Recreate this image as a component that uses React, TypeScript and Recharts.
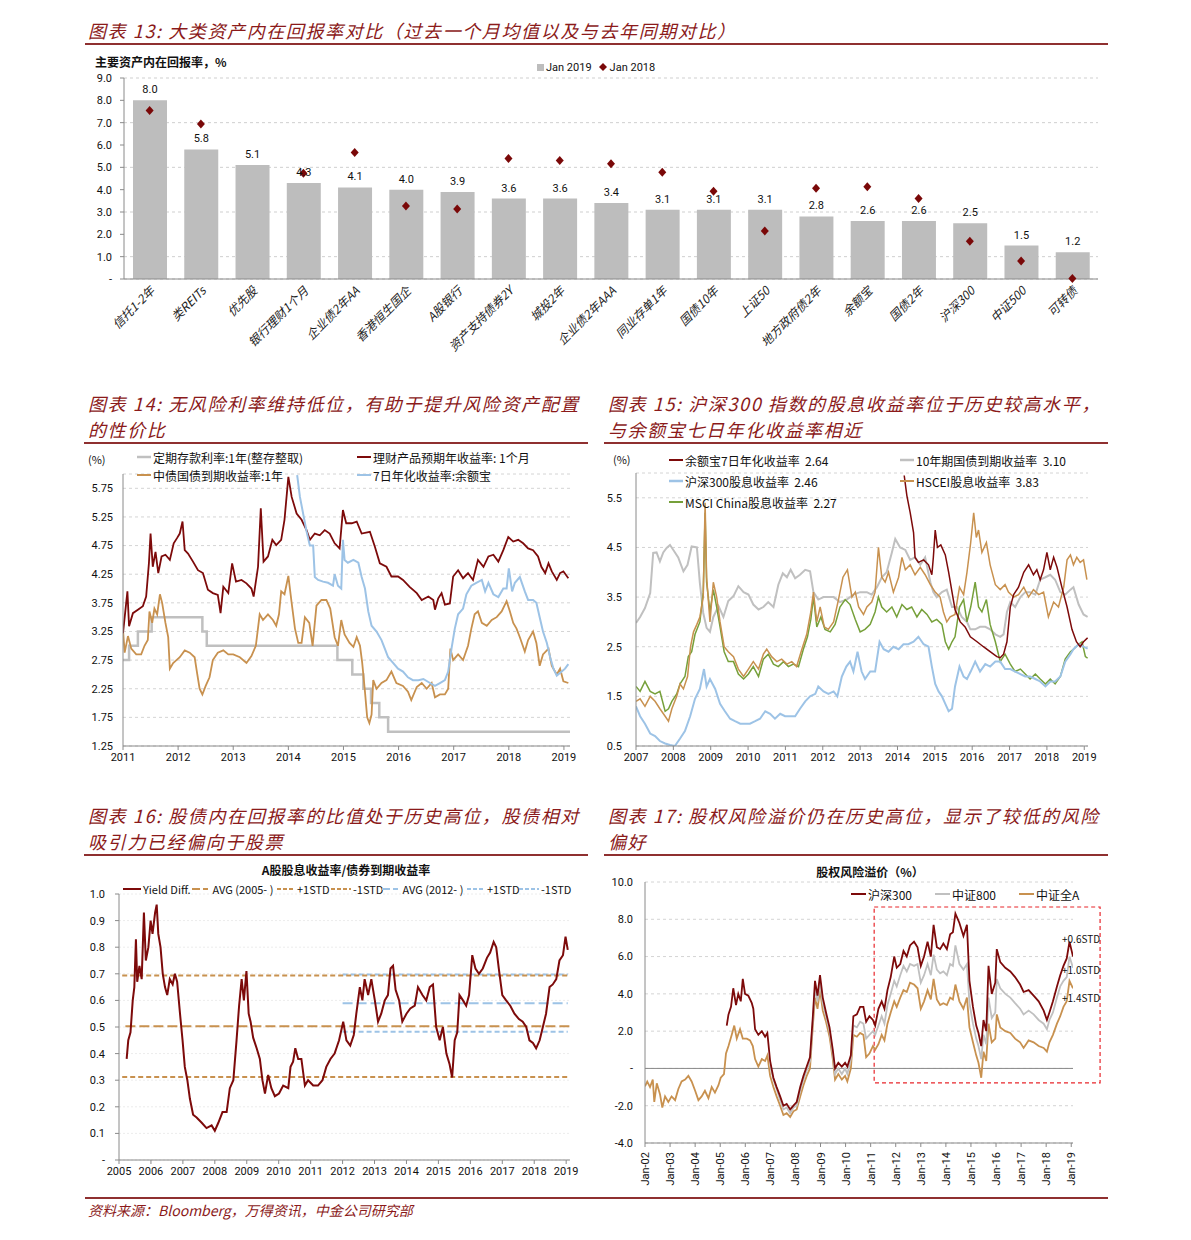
import React from 'react'
import {
  ComposedChart,
  LineChart,
  Bar,
  Line,
  XAxis,
  YAxis,
  CartesianGrid,
  LabelList,
  ReferenceArea,
  ReferenceLine,
} from 'recharts'

type Pt = [number, number]

// ---- 图表13: 大类资产内在回报率 ----
const assetNames = [
  '信托1-2年', '类REITs', '优先股', '银行理财1个月', '企业债2年AA', '香港恒生国企', 'A股银行',
  '资产支持债券2Y', '城投2年', '企业债2年AAA', '同业存单1年', '国债10年', '上证50', '地方政府债2年',
  '余额宝', '国债2年', '沪深300', '中证500', '可转债',
]
const jan2019 = [8.0, 5.8, 5.1, 4.3, 4.1, 4.0, 3.9, 3.6, 3.6, 3.4, 3.1, 3.1, 3.1, 2.8, 2.6, 2.6, 2.5, 1.5, 1.2]
const jan2018 = [7.55, 6.94, null, 4.73, 5.66, 3.27, 3.13, 5.4, 5.31, 5.16, 4.78, 3.93, 2.15, 4.06, 4.13, 3.6, 1.69, 0.81, 0.02]
const ticks13 = [0, 1, 2, 3, 4, 5, 6, 7, 8, 9]

// ---- 图表14: 无风险利率 ----
const deposit1y: Pt[] = [
  [2011.0, 2.75], [2011.11, 3.0], [2011.27, 3.25], [2011.52, 3.5], [2012.44, 3.25], [2012.52, 3.0],
  [2014.89, 2.75], [2015.16, 2.5], [2015.36, 2.25], [2015.5, 2.0], [2015.65, 1.75], [2015.81, 1.5], [2019.11, 1.5],
]
const wealth1m: Pt[] = [
  [2011.0, 3.22], [2011.08, 3.95], [2011.11, 3.34], [2011.18, 3.57], [2011.27, 3.63], [2011.36, 3.69], [2011.42, 3.86],
  [2011.47, 4.44], [2011.5, 4.96], [2011.54, 4.38], [2011.59, 4.64], [2011.64, 4.27], [2011.7, 4.56], [2011.77, 4.59],
  [2011.85, 4.5], [2011.92, 4.79], [2011.98, 4.88], [2012.03, 4.96], [2012.08, 5.17], [2012.12, 4.67], [2012.18, 4.61],
  [2012.27, 4.47], [2012.36, 4.32], [2012.45, 4.27], [2012.54, 3.98], [2012.63, 3.92], [2012.72, 3.89], [2012.77, 3.57],
  [2012.82, 4.03], [2012.91, 3.92], [2012.98, 4.44], [2013.05, 4.12], [2013.15, 4.15], [2013.24, 4.09], [2013.33, 4.0],
  [2013.37, 3.86], [2013.45, 4.38], [2013.5, 5.4], [2013.55, 4.47], [2013.63, 4.56], [2013.71, 4.85], [2013.78, 4.76],
  [2013.87, 4.85], [2013.93, 5.2], [2014.0, 5.95], [2014.06, 5.6], [2014.15, 5.31], [2014.24, 5.2], [2014.33, 5.02],
  [2014.39, 4.85], [2014.48, 4.96], [2014.57, 4.93], [2014.66, 5.02], [2014.75, 4.96], [2014.84, 4.79], [2014.93, 4.7],
  [2014.99, 5.37], [2015.05, 5.14], [2015.15, 5.14], [2015.24, 5.17], [2015.33, 4.96], [2015.48, 4.99], [2015.57, 4.73],
  [2015.66, 4.44], [2015.78, 4.38], [2015.87, 4.21], [2015.99, 4.21], [2016.08, 4.15], [2016.2, 4.03], [2016.33, 3.92],
  [2016.42, 3.8], [2016.54, 3.86], [2016.63, 3.8], [2016.66, 3.63], [2016.72, 3.83], [2016.78, 3.92], [2016.84, 3.72],
  [2016.93, 3.74], [2016.99, 4.21], [2017.08, 4.32], [2017.17, 4.18], [2017.26, 4.27], [2017.35, 4.15], [2017.44, 4.5],
  [2017.54, 4.38], [2017.63, 4.56], [2017.72, 4.59], [2017.81, 4.47], [2017.9, 4.67], [2017.99, 4.9], [2018.08, 4.82],
  [2018.17, 4.85], [2018.26, 4.79], [2018.35, 4.7], [2018.44, 4.67], [2018.53, 4.56], [2018.59, 4.38], [2018.66, 4.27],
  [2018.72, 4.44], [2018.78, 4.3], [2018.87, 4.15], [2018.93, 4.27], [2018.99, 4.3], [2019.08, 4.18],
]
const cgb1y: Pt[] = [
  [2011.0, 3.28], [2011.03, 2.88], [2011.09, 3.17], [2011.15, 2.95], [2011.24, 2.85], [2011.33, 2.85], [2011.39, 3.0],
  [2011.45, 3.1], [2011.48, 3.6], [2011.53, 3.4], [2011.57, 3.65], [2011.62, 3.55], [2011.67, 3.9], [2011.71, 3.75],
  [2011.77, 3.4], [2011.82, 3.15], [2011.85, 2.6], [2011.91, 2.7], [2011.97, 2.75], [2012.03, 2.8], [2012.12, 2.92],
  [2012.21, 2.88], [2012.3, 2.8], [2012.34, 2.55], [2012.39, 2.25], [2012.44, 2.15], [2012.5, 2.3], [2012.57, 2.45],
  [2012.63, 2.75], [2012.72, 2.88], [2012.82, 2.92], [2012.91, 2.85], [2013.0, 2.85], [2013.12, 2.8], [2013.24, 2.7],
  [2013.33, 2.82], [2013.41, 3.0], [2013.48, 3.55], [2013.54, 3.45], [2013.63, 3.55], [2013.72, 3.45], [2013.78, 3.35],
  [2013.83, 3.55], [2013.87, 3.95], [2013.93, 3.9], [2014.0, 4.22], [2014.06, 3.75], [2014.12, 3.3], [2014.18, 3.05],
  [2014.24, 3.05], [2014.3, 3.5], [2014.38, 3.4], [2014.44, 3.0], [2014.51, 3.7], [2014.6, 3.8], [2014.69, 3.8],
  [2014.76, 3.65], [2014.84, 3.15], [2014.9, 3.0], [2014.96, 3.45], [2015.02, 3.2], [2015.11, 3.05], [2015.18, 2.98],
  [2015.24, 3.15], [2015.3, 3.0], [2015.34, 2.7], [2015.39, 2.2], [2015.43, 1.75], [2015.47, 1.65], [2015.51, 1.8],
  [2015.54, 2.4], [2015.6, 2.25], [2015.69, 2.35], [2015.78, 2.4], [2015.87, 2.55], [2015.96, 2.35], [2016.08, 2.3],
  [2016.17, 2.2], [2016.23, 2.05], [2016.33, 2.28], [2016.42, 2.35], [2016.51, 2.25], [2016.6, 2.35], [2016.66, 2.1],
  [2016.75, 2.15], [2016.84, 2.15], [2016.9, 2.25], [2016.94, 2.95], [2016.99, 2.75], [2017.08, 2.85], [2017.17, 2.75],
  [2017.26, 3.0], [2017.32, 3.3], [2017.38, 3.55], [2017.44, 3.6], [2017.51, 3.4], [2017.6, 3.35], [2017.69, 3.45],
  [2017.78, 3.5], [2017.87, 3.6], [2017.96, 3.78], [2018.02, 3.6], [2018.08, 3.4], [2018.14, 3.3], [2018.2, 3.15],
  [2018.29, 2.9], [2018.35, 3.1], [2018.44, 3.25], [2018.5, 3.05], [2018.56, 2.65], [2018.62, 2.85], [2018.72, 2.95],
  [2018.78, 2.65], [2018.87, 2.5], [2018.93, 2.6], [2018.99, 2.38], [2019.08, 2.35],
]
const yuebao7d: Pt[] = [
  [2014.16, 5.98], [2014.21, 5.6], [2014.27, 5.3], [2014.33, 5.0], [2014.39, 4.75], [2014.45, 4.75], [2014.48, 4.2],
  [2014.54, 4.15], [2014.63, 4.12], [2014.72, 4.1], [2014.81, 4.05], [2014.84, 4.25], [2014.9, 4.05], [2014.96, 4.0],
  [2014.99, 4.85], [2015.02, 4.5], [2015.08, 4.45], [2015.18, 4.5], [2015.27, 4.45], [2015.33, 4.2], [2015.39, 4.0],
  [2015.45, 3.6], [2015.51, 3.35], [2015.6, 3.25], [2015.69, 3.1], [2015.75, 2.95], [2015.81, 2.8], [2015.9, 2.7],
  [2015.99, 2.6], [2016.08, 2.55], [2016.17, 2.45], [2016.26, 2.4], [2016.36, 2.4], [2016.45, 2.42], [2016.57, 2.35],
  [2016.66, 2.3], [2016.75, 2.35], [2016.84, 2.4], [2016.9, 2.55], [2016.96, 2.95], [2017.02, 3.3], [2017.08, 3.55],
  [2017.17, 3.65], [2017.23, 3.9], [2017.32, 4.05], [2017.41, 4.1], [2017.51, 4.15], [2017.57, 3.95], [2017.63, 4.1],
  [2017.72, 3.9], [2017.81, 3.85], [2017.9, 4.0], [2017.96, 4.0], [2018.0, 4.35], [2018.06, 3.95], [2018.11, 4.1],
  [2018.2, 4.2], [2018.29, 3.95], [2018.35, 3.8], [2018.44, 3.8], [2018.5, 3.75], [2018.56, 3.5], [2018.62, 3.25],
  [2018.69, 3.05], [2018.75, 2.8], [2018.81, 2.6], [2018.87, 2.48], [2018.96, 2.55], [2019.02, 2.6], [2019.08, 2.68],
]
const years14 = [2011, 2012, 2013, 2014, 2015, 2016, 2017, 2018, 2019]
const ticks14 = [1.25, 1.75, 2.25, 2.75, 3.25, 3.75, 4.25, 4.75, 5.25, 5.75]

// ---- 图表15: 股息收益率 ----
const cgb10y: Pt[] = [
  [2007.0, 2.98], [2007.11, 3.1], [2007.24, 3.28], [2007.38, 3.58], [2007.46, 4.39], [2007.55, 4.4], [2007.64, 4.22],
  [2007.73, 4.4], [2007.82, 4.49], [2007.91, 4.55], [2008.0, 4.45], [2008.13, 4.3], [2008.27, 4.02], [2008.38, 4.15],
  [2008.49, 4.52], [2008.63, 4.5], [2008.71, 3.78], [2008.8, 3.18], [2008.89, 2.88], [2008.98, 2.8], [2009.07, 3.1],
  [2009.21, 3.32], [2009.34, 3.1], [2009.47, 3.42], [2009.61, 3.52], [2009.74, 3.72], [2009.88, 3.6], [2010.01, 3.55],
  [2010.14, 3.35], [2010.28, 3.25], [2010.41, 3.3], [2010.54, 3.4], [2010.68, 3.3], [2010.81, 3.75], [2010.93, 3.98],
  [2011.04, 3.9], [2011.14, 4.05], [2011.26, 3.88], [2011.39, 3.95], [2011.53, 4.05], [2011.66, 4.02], [2011.75, 3.6],
  [2011.88, 3.45], [2012.02, 3.5], [2012.15, 3.5], [2012.29, 3.5], [2012.46, 3.4], [2012.64, 3.45], [2012.82, 3.55],
  [2013.0, 3.6], [2013.18, 3.6], [2013.31, 3.55], [2013.45, 3.7], [2013.58, 3.9], [2013.71, 4.0], [2013.85, 4.4],
  [2013.94, 4.67], [2014.07, 4.5], [2014.21, 4.45], [2014.34, 4.25], [2014.47, 4.3], [2014.61, 4.15], [2014.74, 4.3],
  [2014.88, 3.8], [2014.96, 3.6], [2015.05, 3.5], [2015.19, 3.6], [2015.32, 3.65], [2015.46, 3.3], [2015.59, 3.3],
  [2015.72, 3.1], [2015.86, 3.0], [2015.95, 2.85], [2016.08, 2.85], [2016.21, 2.9], [2016.35, 2.9], [2016.48, 2.85],
  [2016.62, 2.75], [2016.75, 2.7], [2016.84, 2.75], [2016.93, 3.2], [2017.02, 3.4], [2017.15, 3.3], [2017.29, 3.5],
  [2017.42, 3.6], [2017.55, 3.6], [2017.69, 3.55], [2017.82, 3.85], [2017.96, 3.9], [2018.09, 3.95], [2018.22, 3.85],
  [2018.36, 3.6], [2018.49, 3.55], [2018.63, 3.65], [2018.71, 3.7], [2018.85, 3.35], [2018.98, 3.15], [2019.09, 3.1],
]
const yuebao15: Pt[] = [
  [2014.18, 5.95], [2014.25, 5.55], [2014.34, 5.2], [2014.43, 4.8], [2014.47, 4.3], [2014.56, 4.2], [2014.7, 4.25],
  [2014.83, 4.15], [2014.92, 3.95], [2014.96, 4.3], [2015.01, 4.85], [2015.07, 4.5], [2015.16, 4.55], [2015.28, 4.35],
  [2015.37, 4.0], [2015.46, 3.6], [2015.54, 3.25], [2015.68, 3.0], [2015.81, 2.9], [2015.95, 2.7], [2016.13, 2.6],
  [2016.3, 2.5], [2016.48, 2.4], [2016.66, 2.3], [2016.75, 2.28], [2016.84, 2.35], [2016.93, 2.6], [2017.02, 3.3],
  [2017.11, 3.55], [2017.24, 3.7], [2017.38, 4.0], [2017.51, 4.15], [2017.64, 3.95], [2017.73, 4.05], [2017.82, 3.85],
  [2017.91, 4.05], [2018.0, 4.4], [2018.09, 4.05], [2018.18, 4.3], [2018.27, 4.1], [2018.4, 3.7], [2018.54, 3.3],
  [2018.67, 2.85], [2018.79, 2.6], [2018.89, 2.5], [2018.98, 2.6], [2019.09, 2.68],
]
const hsceiDy: Pt[] = [
  [2007.0, 1.4], [2007.11, 1.45], [2007.24, 1.3], [2007.38, 1.5], [2007.51, 1.4], [2007.64, 1.25], [2007.78, 1.1],
  [2007.87, 1.0], [2007.96, 1.25], [2008.09, 1.5], [2008.18, 1.75], [2008.27, 1.65], [2008.38, 1.9], [2008.46, 2.5],
  [2008.54, 2.8], [2008.63, 2.95], [2008.71, 3.1], [2008.8, 3.5], [2008.85, 5.4], [2008.89, 3.9], [2008.98, 3.0],
  [2009.07, 3.8], [2009.16, 3.5], [2009.25, 3.0], [2009.36, 2.5], [2009.47, 2.4], [2009.61, 2.3], [2009.74, 2.05],
  [2009.88, 1.9], [2010.01, 2.05], [2010.14, 2.2], [2010.28, 2.05], [2010.41, 2.35], [2010.5, 2.45], [2010.63, 2.3],
  [2010.77, 2.2], [2010.9, 2.25], [2011.04, 2.15], [2011.17, 2.2], [2011.3, 2.1], [2011.44, 2.45], [2011.57, 2.75],
  [2011.68, 3.2], [2011.75, 3.6], [2011.84, 3.0], [2011.93, 3.3], [2012.04, 2.9], [2012.15, 2.85], [2012.29, 3.0],
  [2012.42, 3.45], [2012.54, 3.9], [2012.66, 4.05], [2012.78, 3.5], [2012.87, 3.6], [2012.96, 3.3], [2013.09, 3.15],
  [2013.18, 3.3], [2013.31, 3.4], [2013.4, 3.6], [2013.49, 4.5], [2013.58, 3.9], [2013.67, 3.8], [2013.76, 4.0],
  [2013.89, 3.6], [2014.03, 3.9], [2014.12, 4.3], [2014.21, 4.05], [2014.34, 4.15], [2014.47, 3.95], [2014.61, 4.1],
  [2014.74, 3.95], [2014.88, 3.75], [2015.01, 3.6], [2015.14, 3.5], [2015.23, 3.2], [2015.32, 3.0], [2015.41, 3.1],
  [2015.54, 3.15], [2015.66, 3.7], [2015.77, 3.55], [2015.86, 4.0], [2015.96, 4.6], [2016.04, 5.2], [2016.11, 4.7],
  [2016.17, 4.85], [2016.26, 4.4], [2016.38, 4.6], [2016.48, 4.15], [2016.62, 3.75], [2016.75, 3.65], [2016.88, 3.75],
  [2016.97, 3.6], [2017.11, 3.5], [2017.24, 3.55], [2017.38, 3.7], [2017.51, 3.5], [2017.64, 3.65], [2017.78, 3.55],
  [2017.91, 3.6], [2018.04, 3.1], [2018.18, 3.4], [2018.31, 3.3], [2018.45, 3.7], [2018.54, 4.25], [2018.63, 4.35],
  [2018.71, 4.15], [2018.8, 4.3], [2018.89, 4.2], [2018.98, 4.25], [2019.07, 3.85],
]
const msciChinaDy: Pt[] = [
  [2007.0, 1.7], [2007.11, 1.6], [2007.24, 1.8], [2007.38, 1.6], [2007.51, 1.55], [2007.64, 1.6], [2007.78, 1.2],
  [2007.87, 1.25], [2007.96, 1.4], [2008.09, 1.55], [2008.18, 1.75], [2008.31, 1.9], [2008.4, 2.3], [2008.49, 2.4],
  [2008.58, 2.75], [2008.71, 3.0], [2008.8, 3.6], [2008.85, 5.2], [2008.89, 3.8], [2008.98, 3.2], [2009.07, 3.65],
  [2009.16, 3.3], [2009.25, 2.9], [2009.36, 2.4], [2009.47, 2.2], [2009.61, 2.2], [2009.74, 1.95], [2009.88, 1.85],
  [2010.01, 1.95], [2010.14, 2.1], [2010.28, 1.9], [2010.41, 2.25], [2010.54, 2.35], [2010.68, 2.15], [2010.81, 2.1],
  [2010.95, 2.2], [2011.08, 2.1], [2011.21, 2.15], [2011.35, 2.1], [2011.48, 2.45], [2011.59, 2.7], [2011.68, 3.05],
  [2011.75, 3.5], [2011.84, 2.9], [2011.95, 3.1], [2012.06, 2.85], [2012.2, 2.8], [2012.33, 2.95], [2012.46, 3.3],
  [2012.6, 3.45], [2012.73, 3.35], [2012.87, 3.05], [2013.0, 2.8], [2013.13, 2.85], [2013.27, 2.95], [2013.4, 3.2],
  [2013.49, 3.5], [2013.58, 3.3], [2013.71, 3.2], [2013.85, 3.3], [2013.98, 3.1], [2014.12, 3.35], [2014.25, 3.25],
  [2014.38, 3.3], [2014.52, 3.1], [2014.65, 3.25], [2014.79, 3.15], [2014.92, 3.0], [2015.05, 3.05], [2015.19, 2.95],
  [2015.28, 2.6], [2015.37, 2.45], [2015.46, 2.6], [2015.54, 2.7], [2015.66, 3.3], [2015.77, 3.45], [2015.86, 3.0],
  [2015.96, 3.3], [2016.08, 3.8], [2016.17, 3.3], [2016.26, 3.2], [2016.38, 3.45], [2016.48, 2.95], [2016.62, 2.6],
  [2016.75, 2.2], [2016.88, 2.35], [2017.02, 2.15], [2017.15, 2.0], [2017.29, 2.05], [2017.42, 1.95], [2017.55, 1.85],
  [2017.69, 1.95], [2017.82, 1.85], [2017.96, 1.75], [2018.09, 1.85], [2018.22, 1.75], [2018.36, 1.9], [2018.49, 2.25],
  [2018.63, 2.4], [2018.71, 2.45], [2018.85, 2.55], [2018.94, 2.6], [2019.03, 2.3], [2019.09, 2.27],
]
const csi300Dy: Pt[] = [
  [2007.0, 1.3], [2007.11, 1.1], [2007.24, 0.95], [2007.38, 0.75], [2007.51, 0.7], [2007.64, 0.6], [2007.78, 0.55],
  [2007.91, 0.52], [2008.04, 0.5], [2008.18, 0.65], [2008.31, 0.8], [2008.45, 1.1], [2008.58, 1.45], [2008.71, 1.65],
  [2008.82, 2.05], [2008.89, 1.7], [2008.98, 1.85], [2009.12, 1.65], [2009.25, 1.35], [2009.38, 1.2], [2009.52, 1.05],
  [2009.65, 1.0], [2009.79, 0.95], [2009.92, 0.95], [2010.05, 0.95], [2010.19, 1.0], [2010.32, 1.05], [2010.46, 1.2],
  [2010.59, 1.15], [2010.72, 1.05], [2010.86, 1.15], [2010.99, 1.1], [2011.13, 1.1], [2011.26, 1.1], [2011.39, 1.25],
  [2011.53, 1.4], [2011.66, 1.5], [2011.8, 1.55], [2011.88, 1.7], [2012.02, 1.6], [2012.15, 1.55], [2012.29, 1.6],
  [2012.39, 1.5], [2012.51, 1.9], [2012.63, 2.1], [2012.73, 2.2], [2012.82, 2.0], [2012.93, 2.4], [2013.04, 2.0],
  [2013.13, 1.85], [2013.27, 2.0], [2013.4, 2.0], [2013.52, 2.6], [2013.63, 2.45], [2013.76, 2.4], [2013.89, 2.5],
  [2014.03, 2.45], [2014.16, 2.55], [2014.29, 2.55], [2014.43, 2.6], [2014.56, 2.7], [2014.7, 2.55], [2014.83, 2.5],
  [2014.92, 2.1], [2015.01, 1.75], [2015.1, 1.6], [2015.19, 1.5], [2015.28, 1.35], [2015.37, 1.2], [2015.46, 1.25],
  [2015.54, 1.7], [2015.66, 2.1], [2015.77, 1.9], [2015.86, 1.85], [2015.96, 2.0], [2016.08, 2.2], [2016.21, 2.0],
  [2016.35, 2.15], [2016.48, 2.1], [2016.62, 2.2], [2016.75, 2.2], [2016.88, 2.05], [2017.02, 2.05], [2017.15, 2.0],
  [2017.29, 1.95], [2017.42, 1.9], [2017.55, 1.9], [2017.69, 1.85], [2017.82, 1.8], [2017.96, 1.7], [2018.09, 1.8],
  [2018.22, 1.8], [2018.36, 1.9], [2018.49, 2.2], [2018.63, 2.35], [2018.71, 2.45], [2018.85, 2.55], [2018.98, 2.5],
  [2019.09, 2.46],
]
const years15 = [2007, 2008, 2009, 2010, 2011, 2012, 2013, 2014, 2015, 2016, 2017, 2018, 2019]
const ticks15 = [0.5, 1.5, 2.5, 3.5, 4.5, 5.5]

// ---- 图表16: 股息收益率/债券到期收益率 ----
const yieldDiff: Pt[] = [
  [2005.24, 0.38], [2005.29, 0.45], [2005.36, 0.48], [2005.43, 0.6], [2005.48, 0.65], [2005.53, 0.83], [2005.57, 0.67],
  [2005.64, 0.73], [2005.71, 0.68], [2005.78, 0.93], [2005.84, 0.75], [2005.92, 0.8], [2005.99, 0.9], [2006.05, 0.85],
  [2006.13, 0.93], [2006.18, 0.96], [2006.23, 0.85], [2006.3, 0.8], [2006.37, 0.7], [2006.44, 0.65], [2006.51, 0.62],
  [2006.59, 0.68], [2006.68, 0.66], [2006.75, 0.7], [2006.82, 0.67], [2006.91, 0.55], [2006.99, 0.45], [2007.06, 0.35],
  [2007.14, 0.3], [2007.22, 0.23], [2007.32, 0.17], [2007.43, 0.16], [2007.59, 0.14], [2007.74, 0.12], [2007.9, 0.13],
  [2008.0, 0.11], [2008.11, 0.14], [2008.24, 0.18], [2008.37, 0.18], [2008.47, 0.27], [2008.58, 0.3], [2008.68, 0.45],
  [2008.76, 0.58], [2008.84, 0.68], [2008.91, 0.6], [2008.99, 0.71], [2009.06, 0.55], [2009.12, 0.52], [2009.2, 0.46],
  [2009.31, 0.42], [2009.41, 0.38], [2009.49, 0.3], [2009.57, 0.25], [2009.67, 0.32], [2009.77, 0.27], [2009.88, 0.24],
  [2010.01, 0.25], [2010.14, 0.28], [2010.3, 0.27], [2010.37, 0.35], [2010.45, 0.37], [2010.52, 0.42], [2010.61, 0.38],
  [2010.71, 0.38], [2010.82, 0.28], [2010.92, 0.3], [2011.08, 0.28], [2011.23, 0.28], [2011.37, 0.3], [2011.49, 0.35],
  [2011.62, 0.38], [2011.75, 0.4], [2011.89, 0.45], [2012.02, 0.52], [2012.12, 0.45], [2012.24, 0.43], [2012.35, 0.47],
  [2012.43, 0.55], [2012.54, 0.65], [2012.62, 0.6], [2012.69, 0.68], [2012.8, 0.62], [2012.9, 0.68], [2013.01, 0.6],
  [2013.11, 0.52], [2013.21, 0.55], [2013.32, 0.6], [2013.42, 0.62], [2013.5, 0.72], [2013.58, 0.73], [2013.66, 0.64],
  [2013.77, 0.6], [2013.87, 0.52], [2014.0, 0.55], [2014.12, 0.57], [2014.26, 0.58], [2014.36, 0.65], [2014.5, 0.62],
  [2014.62, 0.6], [2014.73, 0.65], [2014.83, 0.66], [2014.93, 0.5], [2015.04, 0.45], [2015.14, 0.5], [2015.25, 0.4],
  [2015.35, 0.36], [2015.43, 0.31], [2015.51, 0.45], [2015.59, 0.48], [2015.66, 0.62], [2015.77, 0.6], [2015.87, 0.58],
  [2015.96, 0.62], [2016.06, 0.77], [2016.16, 0.72], [2016.27, 0.7], [2016.39, 0.72], [2016.52, 0.76], [2016.62, 0.78],
  [2016.73, 0.82], [2016.81, 0.8], [2016.89, 0.72], [2017.0, 0.62], [2017.12, 0.6], [2017.25, 0.58], [2017.38, 0.55],
  [2017.52, 0.53], [2017.64, 0.52], [2017.75, 0.5], [2017.85, 0.45], [2017.96, 0.44], [2018.06, 0.42], [2018.17, 0.45],
  [2018.27, 0.5], [2018.37, 0.55], [2018.48, 0.65], [2018.58, 0.66], [2018.69, 0.68], [2018.79, 0.75], [2018.9, 0.77],
  [2018.98, 0.84], [2019.05, 0.79],
]
const avg2005: Pt[] = [[2005.2, 0.503], [2019.1, 0.503]]
const plus2005: Pt[] = [[2005.1, 0.694], [2019.1, 0.694]]
const minus2005: Pt[] = [[2005.1, 0.312], [2019.1, 0.312]]
const avg2012: Pt[] = [[2012.0, 0.589], [2019.05, 0.589]]
const plus2012: Pt[] = [[2012.0, 0.697], [2019.05, 0.697]]
const minus2012: Pt[] = [[2012.0, 0.482], [2019.05, 0.482]]
const years16 = [2005, 2006, 2007, 2008, 2009, 2010, 2011, 2012, 2013, 2014, 2015, 2016, 2017, 2018, 2019]
const ticks16 = [0, 0.1, 0.2, 0.3, 0.4, 0.5, 0.6, 0.7, 0.8, 0.9, 1.0]

// ---- 图表17: 股权风险溢价 ----
const erpAllA: Pt[] = [
  [2002.0, -0.96], [2002.09, -0.7], [2002.2, -1.0], [2002.31, -0.6], [2002.37, -1.8], [2002.47, -0.8], [2002.6, -1.4],
  [2002.69, -2.1], [2002.8, -1.5], [2002.93, -1.8], [2003.06, -1.5], [2003.2, -1.7], [2003.33, -1.1], [2003.46, -0.7],
  [2003.6, -0.6], [2003.73, -0.4], [2003.86, -0.7], [2004.0, -1.2], [2004.13, -1.7], [2004.26, -1.5], [2004.39, -1.2],
  [2004.53, -1.6], [2004.66, -1.0], [2004.79, -1.3], [2004.93, -0.9], [2005.02, -0.5], [2005.15, -0.3], [2005.23, 0.8],
  [2005.33, 1.2], [2005.46, 1.8], [2005.56, 2.3], [2005.66, 1.6], [2005.79, 2.1], [2005.9, 1.6], [2006.06, 1.6],
  [2006.19, 1.5], [2006.3, 1.2], [2006.39, 0.5], [2006.52, 0.1], [2006.66, 0.5], [2006.79, 0.4], [2006.88, 0.7],
  [2006.99, -0.4], [2007.12, -1.0], [2007.25, -1.5], [2007.39, -2.0], [2007.52, -2.5], [2007.65, -2.4], [2007.79, -2.6],
  [2007.92, -2.3], [2008.05, -2.2], [2008.19, -1.5], [2008.32, -0.9], [2008.45, -0.4], [2008.58, 0.0], [2008.69, 2.2],
  [2008.78, 3.8], [2008.88, 3.2], [2008.98, 4.2], [2009.09, 3.1], [2009.22, 2.5], [2009.36, 1.7], [2009.49, 0.5],
  [2009.58, -0.6], [2009.71, -0.3], [2009.85, -0.6], [2009.98, -0.4], [2010.07, -0.7], [2010.21, 0.0], [2010.31, 1.8],
  [2010.45, 1.7], [2010.58, 1.9], [2010.71, 1.8], [2010.82, 0.6], [2010.95, 0.8], [2011.09, 1.2], [2011.18, 1.0],
  [2011.31, 1.3], [2011.44, 1.8], [2011.55, 1.5], [2011.67, 2.4], [2011.8, 3.0], [2011.94, 3.6], [2012.04, 3.3],
  [2012.18, 3.8], [2012.31, 4.2], [2012.44, 4.1], [2012.57, 4.6], [2012.73, 4.5], [2012.87, 4.3], [2013.0, 3.2],
  [2013.13, 3.6], [2013.27, 4.2], [2013.4, 3.7], [2013.51, 4.8], [2013.64, 3.7], [2013.77, 3.4], [2013.9, 3.5],
  [2014.04, 3.4], [2014.17, 3.8], [2014.28, 3.7], [2014.38, 4.5], [2014.54, 3.6], [2014.7, 3.2], [2014.84, 3.8],
  [2014.94, 2.2], [2015.08, 1.4], [2015.21, 0.7], [2015.3, 0.3], [2015.41, -0.5], [2015.5, 0.9], [2015.61, 0.4],
  [2015.7, 2.4], [2015.83, 1.4], [2015.97, 1.6], [2016.03, 2.9], [2016.17, 2.2], [2016.37, 2.0], [2016.57, 1.9],
  [2016.76, 1.6], [2016.96, 1.4], [2017.1, 1.1], [2017.3, 1.5], [2017.5, 1.4], [2017.7, 1.2], [2017.9, 1.1],
  [2018.03, 0.9], [2018.13, 1.4], [2018.27, 1.8], [2018.43, 2.4], [2018.56, 2.8], [2018.69, 3.3], [2018.82, 3.6],
  [2018.93, 4.7], [2019.07, 4.3],
]
const erpCsi800: Pt[] = [
  [2006.99, 0.2], [2007.12, -0.6], [2007.25, -1.1], [2007.39, -1.7], [2007.52, -2.2], [2007.65, -2.1], [2007.79, -2.4],
  [2007.92, -2.1], [2008.05, -2.0], [2008.19, -1.2], [2008.32, -0.6], [2008.45, -0.1], [2008.58, 0.4], [2008.69, 2.5],
  [2008.78, 4.3], [2008.88, 3.6], [2008.98, 4.6], [2009.09, 3.5], [2009.22, 2.8], [2009.36, 2.0], [2009.49, 0.8],
  [2009.58, -0.3], [2009.71, 0.0], [2009.85, -0.3], [2009.98, 0.0], [2010.07, -0.3], [2010.21, 0.5], [2010.31, 2.3],
  [2010.45, 2.2], [2010.58, 2.5], [2010.71, 2.4], [2010.82, 1.6], [2010.95, 1.8], [2011.09, 2.0], [2011.18, 1.8],
  [2011.31, 2.3], [2011.44, 2.8], [2011.55, 2.4], [2011.67, 3.4], [2011.8, 4.0], [2011.94, 4.7], [2012.04, 4.4],
  [2012.18, 5.0], [2012.31, 5.5], [2012.44, 5.2], [2012.57, 5.6], [2012.73, 5.5], [2012.87, 5.6], [2013.0, 4.6],
  [2013.13, 5.0], [2013.27, 5.6], [2013.4, 5.0], [2013.51, 6.1], [2013.64, 5.3], [2013.77, 5.1], [2013.9, 5.2],
  [2014.04, 5.0], [2014.17, 5.6], [2014.28, 5.5], [2014.38, 6.6], [2014.54, 5.6], [2014.7, 5.3], [2014.84, 5.6],
  [2014.94, 3.5], [2015.08, 2.4], [2015.21, 1.6], [2015.3, 1.2], [2015.41, 0.5], [2015.5, 1.8], [2015.61, 1.3],
  [2015.7, 3.8], [2015.83, 2.7], [2015.97, 3.0], [2016.03, 4.8], [2016.17, 4.3], [2016.37, 4.0], [2016.57, 3.8],
  [2016.76, 3.5], [2016.96, 3.2], [2017.1, 2.9], [2017.3, 3.1], [2017.5, 2.9], [2017.7, 2.6], [2017.9, 2.4],
  [2018.03, 2.1], [2018.13, 2.6], [2018.27, 3.0], [2018.43, 3.8], [2018.56, 4.4], [2018.69, 4.7], [2018.82, 4.9],
  [2018.93, 6.0], [2019.07, 5.4],
]
const erpCsi300: Pt[] = [
  [2005.26, 2.3], [2005.33, 2.9], [2005.43, 3.3], [2005.52, 4.3], [2005.63, 3.4], [2005.72, 4.0], [2005.82, 3.6],
  [2005.9, 4.8], [2005.99, 4.0], [2006.12, 3.9], [2006.26, 3.5], [2006.32, 3.2], [2006.39, 2.1], [2006.52, 1.8],
  [2006.66, 2.0], [2006.79, 1.7], [2006.88, 1.9], [2006.99, 0.4], [2007.12, -0.5], [2007.25, -1.0], [2007.39, -1.5],
  [2007.52, -2.0], [2007.65, -1.9], [2007.79, -2.2], [2007.92, -2.0], [2008.05, -1.8], [2008.19, -1.0], [2008.32, -0.4],
  [2008.45, 0.1], [2008.58, 0.6], [2008.69, 2.7], [2008.78, 4.7], [2008.88, 3.9], [2008.98, 5.0], [2009.09, 3.8],
  [2009.22, 3.0], [2009.36, 2.2], [2009.49, 1.0], [2009.58, 0.0], [2009.71, 0.3], [2009.85, 0.1], [2009.98, 0.3],
  [2010.07, 0.1], [2010.21, 0.7], [2010.31, 2.8], [2010.45, 2.9], [2010.58, 3.3], [2010.71, 3.3], [2010.82, 2.5],
  [2010.95, 2.8], [2011.09, 2.6], [2011.18, 2.3], [2011.31, 3.2], [2011.44, 3.6], [2011.55, 3.2], [2011.67, 4.2],
  [2011.8, 4.9], [2011.94, 6.0], [2012.04, 5.4], [2012.18, 5.6], [2012.31, 6.3], [2012.44, 6.0], [2012.57, 6.6],
  [2012.73, 6.8], [2012.87, 6.5], [2013.0, 5.5], [2013.13, 6.0], [2013.27, 6.8], [2013.4, 6.0], [2013.51, 7.7],
  [2013.64, 6.5], [2013.77, 6.4], [2013.9, 6.7], [2014.04, 6.4], [2014.17, 7.2], [2014.28, 7.3], [2014.38, 8.3],
  [2014.54, 7.8], [2014.7, 7.1], [2014.84, 7.7], [2014.94, 4.7], [2015.08, 3.3], [2015.21, 2.3], [2015.3, 1.9],
  [2015.41, 1.2], [2015.5, 2.6], [2015.61, 2.0], [2015.7, 5.5], [2015.83, 4.0], [2015.97, 4.6], [2016.03, 6.4],
  [2016.17, 5.7], [2016.37, 5.4], [2016.57, 5.2], [2016.76, 4.9], [2016.96, 4.5], [2017.1, 4.1], [2017.3, 4.2],
  [2017.5, 3.9], [2017.7, 3.6], [2017.9, 3.1], [2018.03, 2.6], [2018.13, 3.0], [2018.27, 3.6], [2018.43, 4.4],
  [2018.56, 5.0], [2018.69, 5.5], [2018.82, 5.9], [2018.93, 6.8], [2019.07, 6.0],
]
const years17 = [2002, 2003, 2004, 2005, 2006, 2007, 2008, 2009, 2010, 2011, 2012, 2013, 2014, 2015, 2016, 2017, 2018, 2019]
const ticks17 = [-4, -2, 0, 2, 4, 6, 8, 10]
const stdLabels = ['+0.6STD', '+1.0STD', '+1.4STD']

// ---- styling ----
const TITLE = '#8b1a1a'
const RED = '#7d0a0a'
const TAN = '#c8914f'
const GRAY = '#c0c0c0'
const BLUE = '#9dc3e6'
const GREEN = '#76a03a'
const AXIS = '#8a8a8a'
const LATIN = 'Roboto, "Noto Sans CJK SC", sans-serif'
const CJK = '"Noto Sans CJK SC", Roboto, sans-serif'

const pts = (a: Pt[]) => a.map(([t, v]) => ({ t, v }))
const tickStyle = { fontSize: 11, fill: '#111', fontFamily: LATIN }
const dashZero = (v: number) => (v === 0 ? '-' : v.toFixed(1))

function Heading({ x, y, lines, lh = 26 }: { x: number; y: number; lines: string[]; lh?: number }) {
  return (
    <>
      {lines.map((s, i) => (
        <div
          key={i}
          style={{
            position: 'absolute', left: x, top: y + i * lh - 12, height: 24, lineHeight: '24px',
            fontSize: 18, letterSpacing: 1.6, fontStyle: 'italic', color: TITLE, fontFamily: CJK, whiteSpace: 'nowrap',
          }}
        >
          {s}
        </div>
      ))}
    </>
  )
}

function Rule({ x, y, w }: { x: number; y: number; w: number }) {
  return <div style={{ position: 'absolute', left: x, top: y, width: w, height: 1.5, background: '#8f3030' }} />
}

function Key({ x, y, color, text, dash, w = 14, sw = 2, fs = 12 }: {
  x: number; y: number; color: string; text: string; dash?: string; w?: number; sw?: number; fs?: number
}) {
  return (
    <div style={{ position: 'absolute', left: x, top: y - 9, height: 18, display: 'flex', alignItems: 'center', whiteSpace: 'pre', fontSize: fs, fontFamily: CJK, color: '#111' }}>
      <svg width={w} height={6} style={{ marginRight: 2 }}>
        <line x1={0} y1={3} x2={w} y2={3} stroke={color} strokeWidth={sw} strokeDasharray={dash} />
      </svg>
      <span>{text}</span>
    </div>
  )
}

function Note({ x, y, text, bold, fs = 11, center }: { x: number; y: number; text: string; bold?: boolean; fs?: number; center?: boolean }) {
  return (
    <div style={{
      position: 'absolute', left: x, top: y - 9, height: 18, lineHeight: '18px', whiteSpace: 'pre',
      fontSize: fs, fontWeight: bold ? 700 : 400, fontFamily: CJK, color: '#111',
      transform: center ? 'translateX(-50%)' : undefined,
    }}>
      {text}
    </div>
  )
}

const SlantTick = (p: any) => (
  <g transform={`translate(${p.x + 3},${p.y + 2}) rotate(-45)`}>
    <text textAnchor="end" dy={4} fontSize={12} fontStyle="italic" fill="#222" fontFamily={CJK}>
      {p.payload.value}
    </text>
  </g>
)

const JanTick = (p: any) => (
  <g transform={`translate(${p.x},${p.y + 3}) rotate(-90)`}>
    <text textAnchor="end" dy={4} fontSize={11} fill="#111" fontFamily={LATIN}>
      {`Jan-${String(p.payload.value % 100).padStart(2, '0')}`}
    </text>
  </g>
)

const Diamond = (p: any) => {
  if (p.value == null || p.cy == null || Number.isNaN(p.cy)) return <g key={`d${p.index}`} />
  const { cx, cy } = p
  return <path key={`d${p.index}`} d={`M${cx},${cy - 4.5}L${cx + 4},${cy}L${cx},${cy + 4.5}L${cx - 4},${cy}Z`} fill="#7a0808" />
}

function Chart13() {
  const rows = assetNames.map((name, i) => ({ name, jan2019: jan2019[i], jan2018: jan2018[i] }))
  return (
    <div style={{ position: 'absolute', left: 80, top: 70 }}>
      <ComposedChart width={1030} height={300} data={rows} margin={{ top: 8, right: 12, bottom: 0, left: 0 }}>
        <CartesianGrid vertical={false} stroke="#cfcfcf" strokeDasharray="3 3" />
        <XAxis dataKey="name" interval={0} height={91} tick={<SlantTick />} tickLine={false} stroke={AXIS} />
        <YAxis domain={[0, 9]} ticks={ticks13} width={44} tick={tickStyle} tickFormatter={dashZero} tickSize={4} tickMargin={8} stroke={AXIS} />
        <Bar dataKey="jan2019" fill="#bdbdbd" barSize={34} isAnimationActive={false}>
          <LabelList dataKey="jan2019" position="top" offset={7} formatter={(v: any) => Number(v).toFixed(1)} style={{ fontSize: 11, fill: '#111', fontFamily: LATIN }} />
        </Bar>
        <Line dataKey="jan2018" stroke="none" dot={Diamond} activeDot={false} isAnimationActive={false} />
      </ComposedChart>
    </div>
  )
}

function Chart14() {
  return (
    <div style={{ position: 'absolute', left: 80, top: 445 }}>
      <LineChart width={520} height={330} margin={{ top: 29, right: 30, bottom: 0, left: 0 }}>
        <CartesianGrid vertical={false} stroke="#d4d4d4" strokeDasharray="3 3" />
        <XAxis type="number" dataKey="t" domain={[2011, 2019.11]} ticks={years14} interval={0} allowDataOverflow height={29} tick={tickStyle} tickSize={4} tickMargin={3} stroke={AXIS} />
        <YAxis type="number" domain={[1.25, 6]} ticks={ticks14} interval={0} allowDataOverflow width={43} tick={tickStyle} tickFormatter={(v: number) => v.toFixed(2)} tickSize={0} tickMargin={10} stroke={AXIS} />
        <Line data={pts(deposit1y)} dataKey="v" type="stepAfter" stroke={GRAY} strokeWidth={2.5} dot={false} isAnimationActive={false} />
        <Line data={pts(cgb1y)} dataKey="v" stroke={TAN} strokeWidth={1.8} dot={false} isAnimationActive={false} />
        <Line data={pts(wealth1m)} dataKey="v" stroke={RED} strokeWidth={1.8} dot={false} isAnimationActive={false} />
        <Line data={pts(yuebao7d)} dataKey="v" stroke={BLUE} strokeWidth={2} dot={false} isAnimationActive={false} />
      </LineChart>
    </div>
  )
}

function Chart15() {
  return (
    <div style={{ position: 'absolute', left: 600, top: 445 }}>
      <LineChart width={510} height={330} margin={{ top: 28, right: 22, bottom: 0, left: 0 }}>
        <CartesianGrid vertical={false} stroke="#d4d4d4" strokeDasharray="3 3" />
        <XAxis type="number" dataKey="t" domain={[2007, 2019.1]} ticks={years15} interval={0} allowDataOverflow height={29} tick={tickStyle} tickSize={4} tickMargin={3} stroke={AXIS} />
        <YAxis type="number" domain={[0.5, 6]} ticks={ticks15} interval={0} allowDataOverflow width={36} tick={tickStyle} tickFormatter={(v: number) => v.toFixed(1)} tickSize={0} tickMargin={14} stroke={AXIS} />
        <Line data={pts(cgb10y)} dataKey="v" stroke={GRAY} strokeWidth={2} dot={false} isAnimationActive={false} />
        <Line data={pts(msciChinaDy)} dataKey="v" stroke={GREEN} strokeWidth={1.5} dot={false} isAnimationActive={false} />
        <Line data={pts(hsceiDy)} dataKey="v" stroke={TAN} strokeWidth={1.5} dot={false} isAnimationActive={false} />
        <Line data={pts(csi300Dy)} dataKey="v" stroke={BLUE} strokeWidth={2} dot={false} isAnimationActive={false} />
        <Line data={pts(yuebao15)} dataKey="v" stroke={RED} strokeWidth={1.5} dot={false} isAnimationActive={false} />
      </LineChart>
    </div>
  )
}

function Chart16() {
  return (
    <div style={{ position: 'absolute', left: 80, top: 880 }}>
      <LineChart width={520} height={310} margin={{ top: 14, right: 30, bottom: 0, left: 0 }}>
        <CartesianGrid vertical={false} stroke="#ececec" strokeDasharray="2 2" />
        <XAxis type="number" dataKey="t" domain={[2005, 2019.12]} ticks={years16} interval={0} allowDataOverflow height={30} tick={tickStyle} tickSize={4} tickMargin={3} stroke={AXIS} />
        <YAxis type="number" domain={[0, 1]} ticks={ticks16} interval={0} allowDataOverflow width={39} tick={tickStyle} tickFormatter={dashZero} tickSize={4} tickMargin={10} stroke={AXIS} />
        <Line data={pts(avg2012)} dataKey="v" stroke={BLUE} strokeWidth={2} strokeDasharray="10 4" dot={false} isAnimationActive={false} />
        <Line data={pts(plus2012)} dataKey="v" stroke={BLUE} strokeWidth={2} strokeDasharray="5 3" dot={false} isAnimationActive={false} />
        <Line data={pts(minus2012)} dataKey="v" stroke={BLUE} strokeWidth={2} strokeDasharray="5 3" dot={false} isAnimationActive={false} />
        <Line data={pts(avg2005)} dataKey="v" stroke={TAN} strokeWidth={2} strokeDasharray="10 4" dot={false} isAnimationActive={false} />
        <Line data={pts(plus2005)} dataKey="v" stroke={TAN} strokeWidth={2} strokeDasharray="5 3" dot={false} isAnimationActive={false} />
        <Line data={pts(minus2005)} dataKey="v" stroke={TAN} strokeWidth={2} strokeDasharray="5 3" dot={false} isAnimationActive={false} />
        <Line data={pts(yieldDiff)} dataKey="v" stroke={RED} strokeWidth={2} dot={false} isAnimationActive={false} />
      </LineChart>
    </div>
  )
}

function Chart17() {
  return (
    <div style={{ position: 'absolute', left: 600, top: 875 }}>
      <LineChart width={510} height={320} margin={{ top: 7, right: 37, bottom: 0, left: 0 }}>
        <CartesianGrid vertical={false} stroke="#d4d4d4" strokeDasharray="3 3" />
        <XAxis type="number" dataKey="t" domain={[2002, 2019.07]} ticks={years17} interval={0} allowDataOverflow height={52} tick={<JanTick />} tickSize={4} stroke={AXIS} />
        <YAxis type="number" domain={[-4, 10]} ticks={ticks17} interval={0} allowDataOverflow width={45} tick={tickStyle} tickFormatter={dashZero} tickSize={0} tickMargin={12} stroke={AXIS} />
        <ReferenceLine y={0} stroke={AXIS} />
        <Line data={pts(erpAllA)} dataKey="v" stroke={TAN} strokeWidth={1.8} dot={false} isAnimationActive={false} />
        <Line data={pts(erpCsi800)} dataKey="v" stroke={GRAY} strokeWidth={1.8} dot={false} isAnimationActive={false} />
        <Line data={pts(erpCsi300)} dataKey="v" stroke={RED} strokeWidth={1.8} dot={false} isAnimationActive={false} />
        <ReferenceArea x1={2011.14} x2={2020.15} y1={-0.78} y2={8.66} stroke="#e8262b" strokeDasharray="4 3" strokeWidth={1.2} fill="none" ifOverflow="visible" />
      </LineChart>
    </div>
  )
}

export default function App() {
  return (
    <div style={{ position: 'absolute', left: 0, top: 0, width: 1191, height: 1240, background: '#fff', fontFamily: CJK }}>
      <Heading x={88} y={30} lines={['图表 13:  大类资产内在回报率对比（过去一个月均值以及与去年同期对比）']} />
      <Rule x={85} y={43} w={1023} />
      <Chart13 />
      <Note x={95} y={62} text="主要资产内在回报率，%" bold fs={12} />
      <div style={{ position: 'absolute', left: 537, top: 59, height: 16, display: 'flex', alignItems: 'center', fontSize: 11, fontFamily: LATIN, color: '#111' }}>
        <span style={{ display: 'inline-block', width: 7, height: 7, background: '#bdbdbd', marginRight: 2 }} />
        Jan 2019
        <svg width={10} height={10} style={{ marginLeft: 6, marginRight: 2 }}>
          <path d="M5,1L9,5L5,9L1,5Z" fill="#7a0808" />
        </svg>
        Jan 2018
      </div>

      <Heading x={88} y={403} lines={['图表 14:  无风险利率维持低位，有助于提升风险资产配置', '的性价比']} />
      <Rule x={84} y={442} w={504} />
      <Chart14 />
      <Note x={88} y={459} text="(%)" fs={11} />
      <Key x={137} y={457} color={GRAY} sw={2.5} text="定期存款利率:1年(整存整取)" />
      <Key x={357} y={457} color={RED} text="理财产品预期年收益率: 1个月" />
      <Key x={137} y={475} color={TAN} text="中债国债到期收益率:1年" />
      <Key x={357} y={475} color={BLUE} text="7日年化收益率:余额宝" />

      <Heading x={608} y={403} lines={['图表 15:  沪深300 指数的股息收益率位于历史较高水平，', '与余额宝七日年化收益率相近']} />
      <Rule x={604} y={442} w={504} />
      <Chart15 />
      <Note x={613} y={459} text="(%)" fs={11} />
      <Key x={669} y={460} color={RED} text="余额宝7日年化收益率  2.64" />
      <Key x={900} y={460} color={GRAY} sw={2.5} text="10年期国债到期收益率  3.10" />
      <Key x={669} y={481} color={BLUE} sw={2.5} text="沪深300股息收益率  2.46" />
      <Key x={900} y={481} color={TAN} text="HSCEI股息收益率  3.83" />
      <Key x={669} y={502} color={GREEN} text="MSCI China股息收益率  2.27" />

      <Heading x={88} y={815} lines={['图表 16:  股债内在回报率的比值处于历史高位，股债相对', '吸引力已经偏向于股票']} />
      <Rule x={84} y={854} w={504} />
      <Chart16 />
      <Note x={346} y={870} text="A股股息收益率/债券到期收益率" bold fs={12} center />
      <Key x={123} y={889} w={18} color={RED} text="Yield Diff." fs={11} />
      <Key x={192} y={889} w={16} color={TAN} dash="8 3" text=" AVG (2005- )" fs={11} />
      <Key x={277} y={889} w={18} color={TAN} dash="4 2" text="+1STD" fs={11} />
      <Key x={331} y={889} w={20} color={TAN} dash="4 2" text="-1STD" fs={11} />
      <Key x={382} y={889} w={16} color={BLUE} dash="8 3" text=" AVG (2012- )" fs={11} />
      <Key x={467} y={889} w={18} color={BLUE} dash="4 2" text="+1STD" fs={11} />
      <Key x={519} y={889} w={20} color={BLUE} dash="4 2" text="-1STD" fs={11} />

      <Heading x={608} y={815} lines={['图表 17:  股权风险溢价仍在历史高位，显示了较低的风险', '偏好']} />
      <Rule x={604} y={854} w={504} />
      <Chart17 />
      <Note x={870} y={872} text="股权风险溢价（%）" bold fs={12} center />
      <Key x={851} y={894} w={15} color={RED} text="沪深300" fs={12} />
      <Key x={935} y={894} w={15} color={GRAY} text="中证800" fs={12} />
      <Key x={1019} y={894} w={15} color={TAN} text="中证全A" fs={12} />
      {stdLabels.map((s, i) => (
        <Note key={s} x={1062} y={[939, 970, 998][i]} text={s} fs={10} />
      ))}

      <Rule x={85} y={1197} w={1023} />
      <div style={{ position: 'absolute', left: 88, top: 1200, height: 20, lineHeight: '20px', fontSize: 14, fontStyle: 'italic', color: TITLE, fontFamily: CJK, whiteSpace: 'nowrap' }}>
        资料来源：Bloomberg，万得资讯，中金公司研究部
      </div>
    </div>
  )
}
